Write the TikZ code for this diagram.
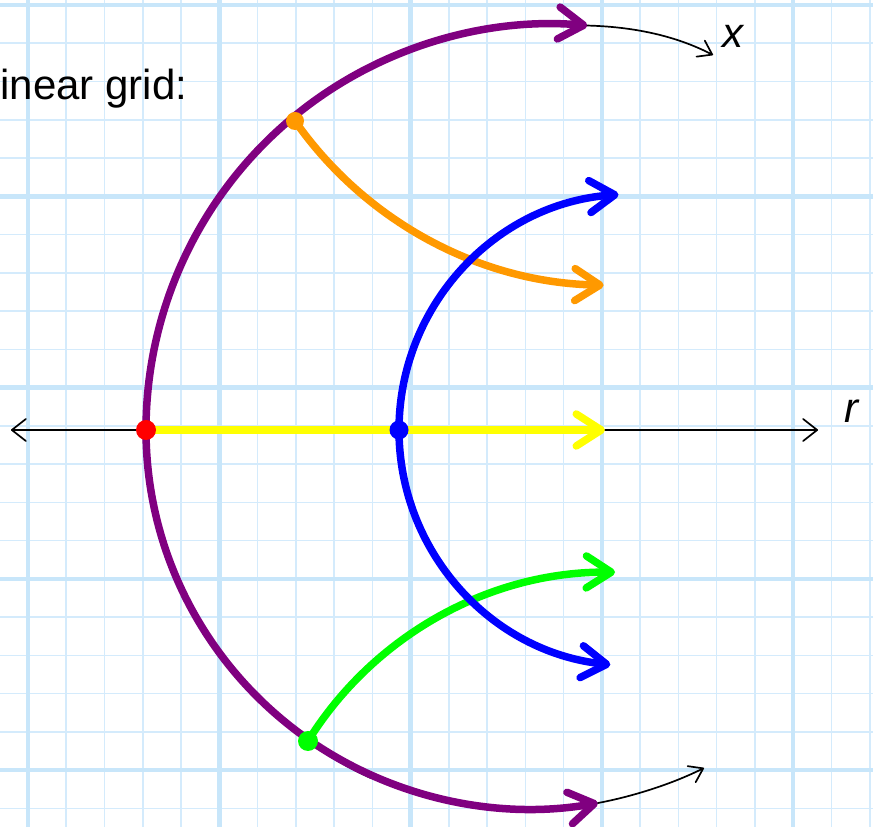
\documentclass[tikz,border=0pt]{standalone}
\usepackage{fontspec}
\setmainfont{Liberation Sans}
\usetikzlibrary{arrows.meta}
\definecolor{gthincol}{RGB}{212,235,252}
\definecolor{gthickcol}{RGB}{200,230,250}
\definecolor{mpurple}{RGB}{128,0,128}
\definecolor{morange}{RGB}{255,153,0}
\definecolor{myellow}{RGB}{255,255,0}
\definecolor{mblue}{RGB}{0,0,255}
\definecolor{mgreen}{RGB}{0,255,0}
\definecolor{mred}{RGB}{255,0,0}
\begin{document}
\begin{tikzpicture}[x=1pt,y=1pt,
  gridthin/.style={draw=gthincol,line width=1.6pt},
  gridthick/.style={draw=gthickcol,line width=4.5pt},
  fat/.style={line width=7.5pt, line cap=round, -{Straight Barb[length=25pt,width=32pt,round]}},
  thinarrow/.style={line width=1.7pt, line cap=round, -{Straight Barb[length=13pt,width=18pt,round]}},
  axisline/.style={line width=1.7pt, {Straight Barb[length=14pt,width=22pt,round]}-{Straight Barb[length=14pt,width=22pt,round]}},
  dot/.style={circle, inner sep=0pt, minimum size=20pt},
  lab/.style={font=\fontsize{42}{48}\selectfont\itshape, inner sep=0pt, anchor=base}]
\useasboundingbox (0,0) rectangle (873,827);
\begin{scope}
\clip (0,0) rectangle (873,827);
% grid
\foreach \i in {-1,...,23} {
  \draw[gridthin] ({28+38.26*\i},0) -- ({28+38.26*\i},827);
}
\foreach \i in {0,...,22} {
  \draw[gridthin] (0,{822-38.26*\i}) -- (873,{822-38.26*\i});
}
\foreach \i in {0,...,4} {
  \draw[gridthick] ({28+191.3*\i},0) -- ({28+191.3*\i},827);
  \draw[gridthick] (0,{822-191.3*\i}) -- (873,{822-191.3*\i});
}
% key points
\coordinate (pr) at (146,397);
\coordinate (pb) at (399,397);
\coordinate (po) at (295,706);
\coordinate (pg) at (308,86);
\coordinate (axl) at (11,397);
\coordinate (axr) at (818,397);
\coordinate (yend) at (605,397);
\coordinate (xend) at (713,772);
\coordinate (bend) at (704,59);
% axis
\draw[axisline] (axl) -- (axr);
% thin black arc under purple
\draw[line width=1.5pt] (pr) arc[start angle=180,end angle=245,x radius=389,y radius=384];
% purple
\draw[fat, mpurple] (pr) arc[start angle=180,end angle=85,radius=406] coordinate (ptop);
\draw[fat, mpurple] (pr) arc[start angle=180,end angle=280.2,x radius=384,y radius=379] coordinate (pbot);
% black arrows
\draw[thinarrow] (ptop) .. controls (640,800) and (680,789) .. (xend);
\draw[thinarrow] (pbot) .. controls (630,30) and (670,42) .. (bend);
% yellow
\draw[fat, myellow] (pr) -- (yend);
% orange, green
\draw[fat, morange] (po) arc[start angle=215,end angle=269,radius=385];
\draw[fat, mgreen] (pg) arc[start angle=148.1,end angle=89.5,radius=358];
% blue
\draw[fat, mblue] (pb) arc[start angle=180,end angle=94,radius=236];
\draw[fat, mblue] (pb) arc[start angle=180,end angle=264,radius=236];
% dots
\node[dot, fill=mred] (rd) at (pr) {};
\node[dot, fill=mblue, minimum size=19pt] (bd) at (pb) {};
\node[dot, fill=morange, minimum size=18pt] (od) at (po) {};
\node[dot, fill=mgreen, minimum size=20pt] (gd) at (pg) {};
% labels
\node[lab] (xl) at (733,779) {x};
\node[lab] (rl) at (851,404) {r};
\node[font=\fontsize{42}{48}\selectfont, anchor=base west, inner sep=0pt] (title) at (-9,727) {linear grid:};
\end{scope}
\end{tikzpicture}
\end{document}
